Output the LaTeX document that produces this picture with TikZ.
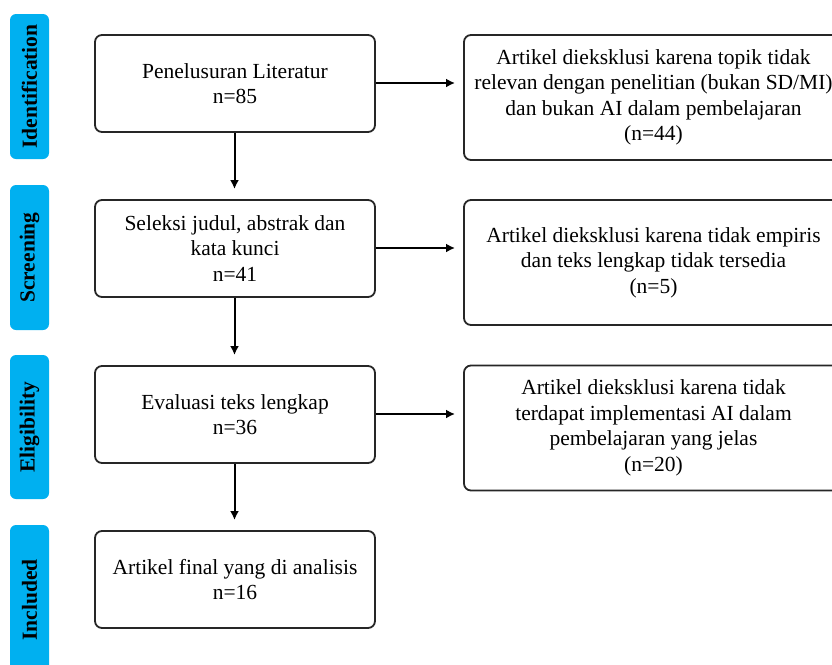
\documentclass[tikz,border=0pt]{standalone}
\usepackage{fontspec}
\setmainfont{Liberation Serif}
\usetikzlibrary{arrows.meta}
\definecolor{phaseblue}{HTML}{00B0F0}
\begin{document}
\begin{tikzpicture}[x=1pt,y=-1pt,
 box/.style={draw=black!85, line width=1.8pt, rounded corners=7pt, align=center,
   font=\fontsize{21.5}{25.5}\selectfont, inner sep=0pt, minimum width=280pt, minimum height=97pt},
 exbox/.style={box, minimum width=379pt, minimum height=125pt},
 phase/.style={fill=phaseblue, rounded corners=6pt, rotate=90, inner sep=0pt,
   minimum height=39pt, font=\bfseries\fontsize{21.5}{24}\selectfont},
 arr/.style={draw=black, line width=2pt, -{Latex[length=9pt,width=9pt]}}]
\useasboundingbox (0,0) rectangle (832,664);
% phase labels
\node[phase, minimum width=145pt] (p1) at (29.5,86.5) {Identification};
\node[phase, minimum width=145pt] (p2) at (29.5,257.5) {Screening};
\node[phase, minimum width=144pt] (p3) at (29.5,427) {Eligibility};
\node[phase, minimum width=150pt] (p4) at (29.5,600) {Included};
% main boxes
\node[box] (b1) at (235,83.5) {Penelusuran Literatur\\n=85};
\node[box] (b2) at (235,248.5) {Seleksi judul, abstrak dan\\kata kunci\\n=41};
\node[box] (b3) at (235,414.5) {Evaluasi teks lengkap\\n=36};
\node[box] (b4) at (235,579.5) {Artikel final yang di analisis\\n=16};
% exclusion boxes
\node[exbox] (e1) at (653.5,97.5) {Artikel dieksklusi karena topik tidak\\relevan dengan penelitian (bukan SD/MI)\\dan bukan AI dalam pembelajaran\\(n=44)};
\node[exbox] (e2) at (653.5,262.5) {Artikel dieksklusi karena tidak empiris\\dan teks lengkap tidak tersedia\\(n=5)};
\node[exbox] (e3) at (653.5,428) {Artikel dieksklusi karena tidak\\terdapat implementasi AI dalam\\pembelajaran yang jelas\\(n=20)};
% arrows
\coordinate (t1) at (455,83);
\coordinate (t2) at (455,248);
\coordinate (t3) at (455,414);
\draw[arr] (b1.east |- t1) -- (t1);
\draw[arr] (b2.east |- t2) -- (t2);
\draw[arr] (b3.east |- t3) -- (t3);
\coordinate (d1) at (234.5,189);
\coordinate (d2) at (234.5,355);
\coordinate (d3) at (234.5,520);
\draw[arr] (b1.south -| d1) -- (d1);
\draw[arr] (b2.south -| d2) -- (d2);
\draw[arr] (b3.south -| d3) -- (d3);
\end{tikzpicture}
\end{document}
